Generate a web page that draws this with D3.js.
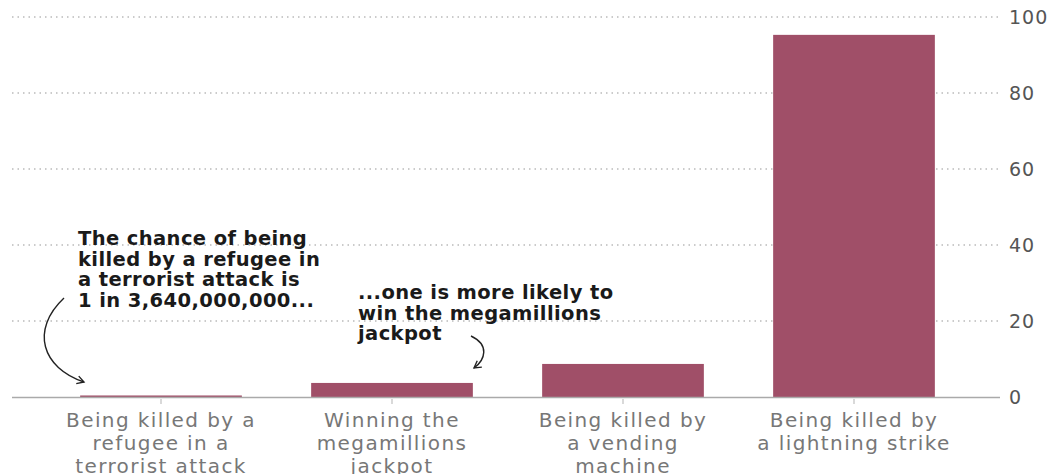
<!DOCTYPE html>
<html>
<head>
<meta charset="utf-8">
<script src="https://cdn.jsdelivr.net/npm/d3@7"></script>
<style>
  body { margin: 0; background: #fff; }
  svg { display: block; }
  .tick-label { font-family: "DejaVu Sans", sans-serif; font-size: 19px; letter-spacing: 1px; fill: #555; }
  .cat-label  { font-family: "DejaVu Sans", sans-serif; font-size: 20px; letter-spacing: 1.4px; fill: #777; }
  .note       { font-family: "DejaVu Sans", sans-serif; font-size: 19.5px; letter-spacing: 0.4px; font-weight: bold; fill: #1a1a1a; }
</style>
</head>
<body>
<svg id="chart" width="1055" height="474"></svg>
<script>
// ── Data ──────────────────────────────────────────────────────────────────────
const categories = [
  ['Being killed by a', 'refugee in a', 'terrorist attack'],
  ['Winning the', 'megamillions', 'jackpot'],
  ['Being killed by', 'a vending', 'machine'],
  ['Being killed by', 'a lightning strike']
];
const values    = [0.4, 3.7, 8.7, 95.3];
const yTicks    = [0, 20, 40, 60, 80, 100];
const noteLeft  = ['The chance of being', 'killed by a refugee in', 'a terrorist attack is', '1 in 3,640,000,000...'];
const noteRight = ['...one is more likely to', 'win the megamillions', 'jackpot'];

// ── Layout ────────────────────────────────────────────────────────────────────
const GRID_X0 = 12, GRID_X1 = 1000;
const Y0 = 397, Y100 = 17;

const svg = d3.select('#chart');

const x = d3.scaleBand()
  .domain(d3.range(categories.length))
  .range([45.5, 969.5])
  .paddingInner(0.3)
  .paddingOuter(0.15);

const y = d3.scaleLinear().domain([0, 100]).range([Y0, Y100]);

// ── Gridlines + y labels ─────────────────────────────────────────────────────
const yAxis = svg.append('g')
  .attr('transform', `translate(${GRID_X1},0)`)
  .call(d3.axisRight(y).tickValues(yTicks).tickSize(0).tickPadding(9));
yAxis.select('.domain').remove();
yAxis.selectAll('text').attr('class', 'tick-label').attr('fill', null);
yAxis.attr('font-size', null).attr('font-family', null);

svg.append('g').selectAll('line')
  .data(yTicks.filter(d => d > 0))
  .join('line')
  .attr('x1', GRID_X0).attr('x2', GRID_X1)
  .attr('y1', d => y(d)).attr('y2', d => y(d))
  .attr('stroke', '#bbb')
  .attr('stroke-width', 1.5)
  .attr('stroke-dasharray', '1.5,4');

// ── Bars ─────────────────────────────────────────────────────────────────────
svg.append('g').selectAll('rect')
  .data(values)
  .join('rect')
  .attr('x', (d, i) => x(i))
  .attr('width', x.bandwidth())
  .attr('y', d => y(d))
  .attr('height', d => y(0) - y(d))
  .attr('fill', '#a04f68');

// ── Baseline + x ticks ───────────────────────────────────────────────────────
svg.append('line')
  .attr('x1', GRID_X0).attr('x2', GRID_X1)
  .attr('y1', Y0 + 0.5).attr('y2', Y0 + 0.5)
  .attr('stroke', '#aaa').attr('stroke-width', 1.5);

svg.append('g').selectAll('line')
  .data(values)
  .join('line')
  .attr('x1', (d, i) => x(i) + x.bandwidth() / 2)
  .attr('x2', (d, i) => x(i) + x.bandwidth() / 2)
  .attr('y1', Y0 + 2).attr('y2', Y0 + 7)
  .attr('stroke', '#ccc').attr('stroke-width', 1.5);

// ── Category labels ─────────────────────────────────────────────────────────
const cat = svg.append('g').selectAll('text')
  .data(categories)
  .join('text')
  .attr('class', 'cat-label')
  .attr('text-anchor', 'middle')
  .attr('x', (d, i) => x(i) + x.bandwidth() / 2)
  .attr('y', 427);
cat.selectAll('tspan')
  .data(d => d)
  .join('tspan')
  .attr('x', function() { return this.parentNode.getAttribute('x'); })
  .attr('dy', (d, i) => i ? 23 : 0)
  .text(d => d);

// ── Annotations ─────────────────────────────────────────────────────────────
function note(lines, x0, y0) {
  const t = svg.append('text').attr('class', 'note').attr('x', x0).attr('y', y0);
  t.selectAll('tspan').data(lines).join('tspan')
    .attr('x', x0).attr('dy', (d, i) => i ? 20.5 : 0).text(d => d);
}
note(noteLeft, 78, 245);
note(noteRight, 358, 299);

svg.append('defs').append('marker')
  .attr('id', 'head').attr('viewBox', '0 0 10 10')
  .attr('refX', 8).attr('refY', 5)
  .attr('markerWidth', 7).attr('markerHeight', 7)
  .attr('orient', 'auto-start-reverse')
  .append('path').attr('d', 'M1,1 L8,5 L1,9')
  .attr('fill', 'none').attr('stroke', '#222').attr('stroke-width', 1.4);

svg.append('path')
  .attr('d', 'M64,298 C30,330 42,368 84,382')
  .attr('fill', 'none').attr('stroke', '#222').attr('stroke-width', 1.4)
  .attr('marker-end', 'url(#head)');

svg.append('path')
  .attr('d', 'M471,336 C490,345 485,360 474,368')
  .attr('fill', 'none').attr('stroke', '#222').attr('stroke-width', 1.4)
  .attr('marker-end', 'url(#head)');
</script>
</body>
</html>
